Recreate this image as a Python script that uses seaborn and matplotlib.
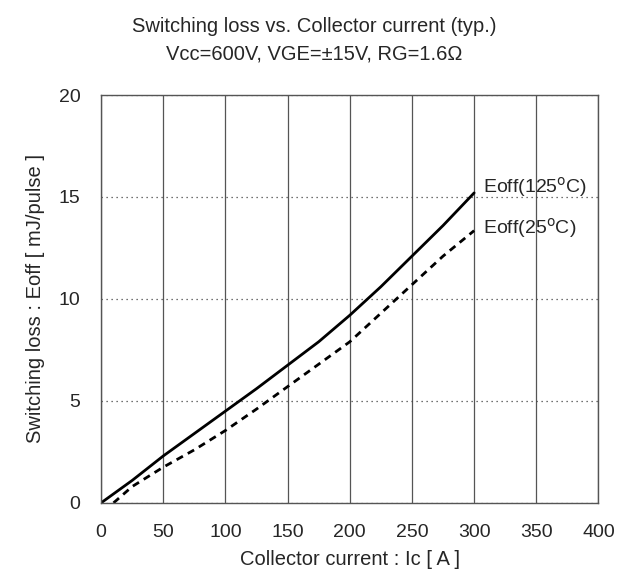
import numpy as np
import pandas as pd
import matplotlib
matplotlib.use("Agg")
import matplotlib.pyplot as plt
import seaborn as sns

# ── Data ─────────────────────────────────────────────────────
ic_125 = [0, 25, 50, 75, 100, 125, 150, 175, 200, 225, 250, 275, 300]
eoff_125 = [0, 1.1, 2.3, 3.4, 4.5, 5.6, 6.75, 7.9, 9.2, 10.6, 12.1, 13.6, 15.2]

ic_25 = [10, 25, 50, 75, 100, 125, 150, 175, 200, 225, 250, 275, 300]
eoff_25 = [0, 0.8, 1.75, 2.6, 3.55, 4.6, 5.7, 6.8, 7.9, 9.3, 10.7, 12.1, 13.35]

x_ticks = [0, 50, 100, 150, 200, 250, 300, 350, 400]
y_ticks = [0, 5, 10, 15, 20]

df = pd.concat([
    pd.DataFrame({"Ic": ic_125, "Eoff": eoff_125, "curve": "125"}),
    pd.DataFrame({"Ic": ic_25, "Eoff": eoff_25, "curve": "25"}),
])

sns.set_style("white")
plt.rcParams["font.family"] = ["Liberation Sans", "DejaVu Sans"]

fig = plt.figure(figsize=(6.28, 5.76), dpi=100)
ax = fig.add_axes([0.161, 0.127, 0.792, 0.708])

sns.lineplot(data=df, x="Ic", y="Eoff", style="curve",
             dashes={"125": "", "25": (2.6, 2.0)}, color="black",
             linewidth=2.0, legend=False, ax=ax)

# grid: solid verticals, dotted horizontals (as on the scan)
ax.set_axisbelow(True)
ax.grid(axis="x", color="#555555", linestyle="-", linewidth=0.9)
ax.grid(axis="y", color="#444444", linestyle=(0, (1, 3)), linewidth=0.9)

ax.set_xlim(0, 400)
ax.set_ylim(0, 20)
ax.set_xticks(x_ticks)
ax.set_yticks(y_ticks)
ax.tick_params(labelsize=14, length=0, pad=15)
for s in ax.spines.values():
    s.set_color("#555555")
    s.set_linewidth(1.0)

ax.text(307, 15.5, r"Eoff(125$^\mathrm{o}$C)", fontsize=14, va="center")
ax.text(307, 13.5, r"Eoff(25$^\mathrm{o}$C)", fontsize=14, va="center")

ax.set_xlabel("Collector current : Ic [ A ]", fontsize=14.5, labelpad=7)
ax.set_ylabel("Switching loss : Eoff [ mJ/pulse ]", fontsize=14.5, labelpad=10)

fig.text(0.5, 0.954, "Switching loss vs. Collector current (typ.)",
         ha="center", va="center", fontsize=14.5)
fig.text(0.5, 0.907, "Vcc=600V, VGE=\u00b115V, RG=1.6\u03a9",
         ha="center", va="center", fontsize=14.5)

fig.savefig("out.png", dpi=100)
